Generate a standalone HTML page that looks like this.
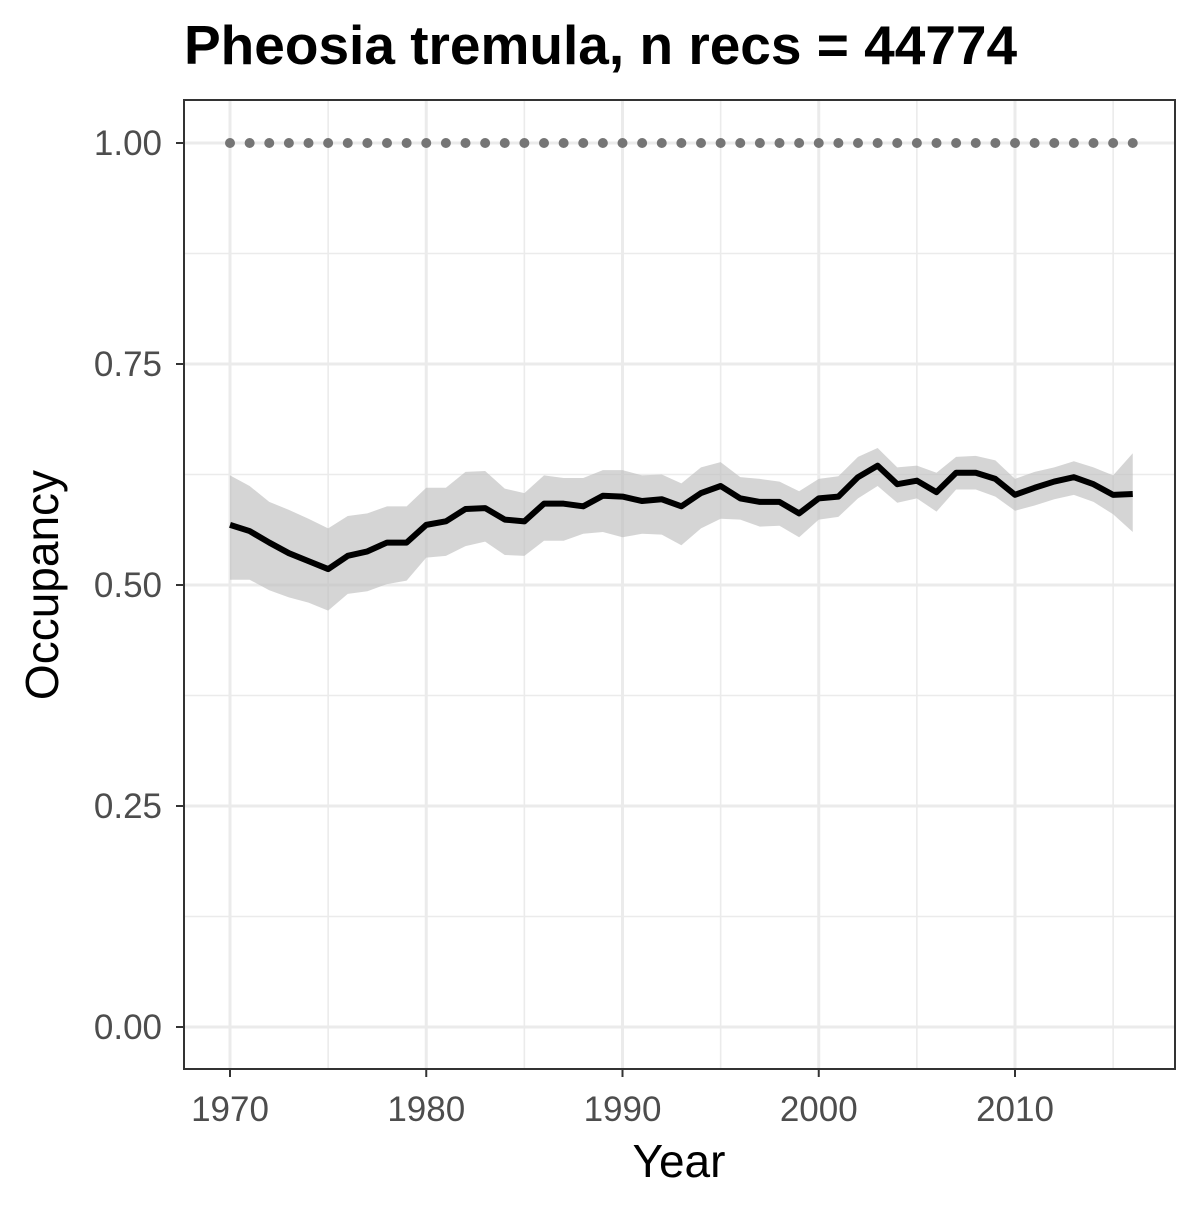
<!DOCTYPE html>
<html><head><meta charset="utf-8"><style>
body{margin:0;background:#fff;}
svg text{font-family:"Liberation Sans",Arial,sans-serif;}
</style></head><body>
<svg id="chart" width="1200" height="1200" xmlns="http://www.w3.org/2000/svg">
<rect width="1200" height="1200" fill="#fff"/>
<text x="184" y="64" font-size="55" font-weight="bold" fill="#000">Pheosia tremula, n recs = 44774</text>
<g id="grid"></g>
<g id="marks"></g>
<rect x="184" y="100" width="991" height="969" fill="none" stroke="#333" stroke-width="2"/>
<g id="axes"></g>
<text x="679" y="1177" font-size="46" text-anchor="middle" fill="#000">Year</text>
<text transform="translate(58,585) rotate(-90)" font-size="46" text-anchor="middle" fill="#000">Occupancy</text>
</svg>
<script>
const years=[];for(let y=1970;y<=2016;y++)years.push(y);
const occupancy=[0.568,0.561,0.548,0.536,0.527,0.518,0.533,0.538,0.548,0.548,0.568,0.572,0.586,0.587,0.574,0.572,0.592,0.592,0.589,0.601,0.600,0.595,0.597,0.589,0.604,0.612,0.598,0.594,0.594,0.581,0.598,0.600,0.622,0.635,0.614,0.618,0.605,0.627,0.627,0.620,0.602,0.610,0.617,0.622,0.614,0.602,0.603];
const upper=[0.624,0.612,0.594,0.585,0.575,0.564,0.578,0.581,0.589,0.589,0.610,0.610,0.628,0.629,0.609,0.604,0.624,0.621,0.621,0.630,0.630,0.624,0.625,0.615,0.633,0.639,0.622,0.620,0.617,0.606,0.620,0.623,0.645,0.655,0.633,0.635,0.627,0.645,0.646,0.641,0.620,0.628,0.633,0.640,0.633,0.624,0.649];
const lower=[0.506,0.506,0.494,0.486,0.480,0.471,0.490,0.493,0.501,0.505,0.531,0.533,0.544,0.549,0.534,0.533,0.550,0.550,0.558,0.560,0.554,0.558,0.557,0.545,0.564,0.575,0.574,0.566,0.567,0.554,0.574,0.577,0.598,0.612,0.593,0.598,0.583,0.608,0.608,0.600,0.584,0.590,0.597,0.602,0.594,0.580,0.560];
const ref=years.map(()=>1.0);
const xTicks=[1970,1980,1990,2000,2010];
const yTicks=[0,0.25,0.5,0.75,1];
const yTickLabels=["0.00","0.25","0.50","0.75","1.00"];
const NS="http://www.w3.org/2000/svg";
const X=v=>230+(v-1970)*19.625;
const Y=v=>1027-v*884;
function mk(tag,attrs,parent){const e=document.createElementNS(NS,tag);for(const k in attrs)e.setAttribute(k,attrs[k]);parent.appendChild(e);return e;}
const grid=document.getElementById('grid'),marks=document.getElementById('marks'),axes=document.getElementById('axes');
mk('rect',{x:184,y:100,width:991,height:969,fill:'#fff'},grid);
for(let i=0;i<yTicks.length-1;i++){const m=(yTicks[i]+yTicks[i+1])/2;const l=mk('line',{x1:184,x2:1175,y1:Y(m),y2:Y(m),stroke:'#ebebeb','stroke-width':1.6},grid);

}
for(let i=0;i<xTicks.length;i++){const m=xTicks[i]+5;const l=mk('line',{x1:X(m),x2:X(m),y1:100,y2:1069,stroke:'#ebebeb','stroke-width':1.6},grid);

}
yTicks.forEach((t,i)=>{const l=mk('line',{x1:184,x2:1175,y1:Y(t),y2:Y(t),stroke:'#ebebeb','stroke-width':3},grid);


mk('line',{x1:176,x2:184,y1:Y(t),y2:Y(t),stroke:'#333','stroke-width':2},axes);
const tx=mk('text',{x:162,y:Y(t)+12,'font-size':35,'text-anchor':'end',fill:'#4d4d4d'},axes);tx.textContent=yTickLabels[i];

});
xTicks.forEach(t=>{const l=mk('line',{x1:X(t),x2:X(t),y1:100,y2:1069,stroke:'#ebebeb','stroke-width':3},grid);


mk('line',{x1:X(t),x2:X(t),y1:1069,y2:1077,stroke:'#333','stroke-width':2},axes);
const tx=mk('text',{x:X(t),y:1121,'font-size':35,'text-anchor':'middle',fill:'#4d4d4d'},axes);tx.textContent=t;

});
let d='';years.forEach((y,i)=>{d+=(i?'L':'M')+X(y)+','+Y(upper[i]);});
for(let i=years.length-1;i>=0;i--)d+='L'+X(years[i])+','+Y(lower[i]);
const band=mk('path',{d:d+'Z',fill:'#bfbfbf','fill-opacity':0.65},marks);


const line=mk('polyline',{points:years.map((y,i)=>X(y)+','+Y(occupancy[i])).join(' '),fill:'none',stroke:'#000','stroke-width':6,'stroke-linejoin':'round'},marks);


years.forEach((y,i)=>{const c=mk('circle',{cx:X(y),cy:Y(ref[i]),r:5,fill:'#757575'},marks);

});
</script>
</body></html>
